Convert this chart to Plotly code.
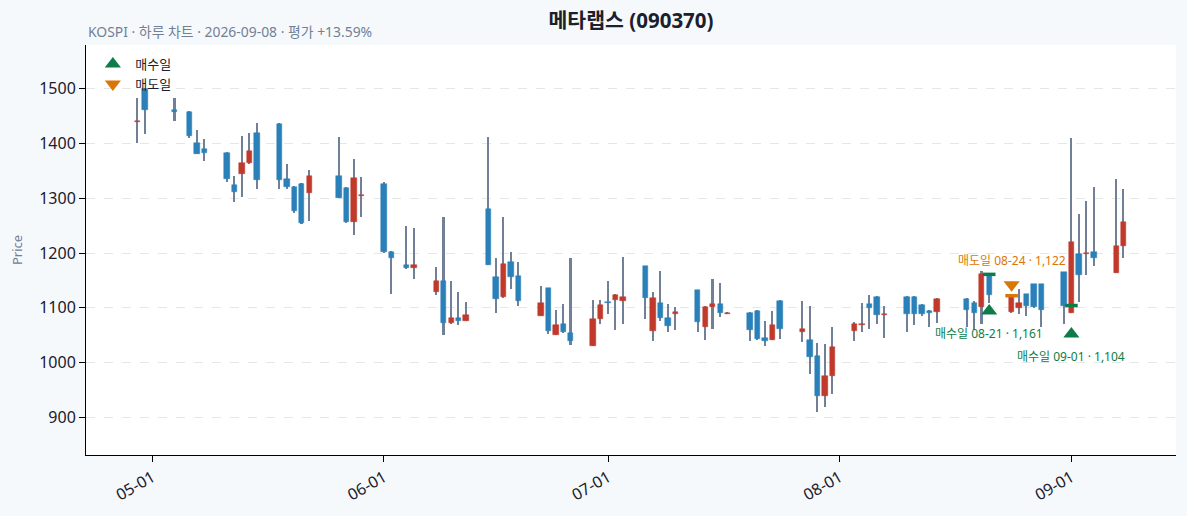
import plotly.graph_objects as go
import pandas as pd

# ---- data ----
dates = [
    "2026-04-29", "2026-04-30", "2026-05-04", "2026-05-06", "2026-05-07", "2026-05-08",
    "2026-05-11", "2026-05-12", "2026-05-13", "2026-05-14", "2026-05-15",
    "2026-05-18", "2026-05-19", "2026-05-20", "2026-05-21", "2026-05-22",
    "2026-05-26", "2026-05-27", "2026-05-28", "2026-05-29",
    "2026-06-01", "2026-06-02", "2026-06-04", "2026-06-05",
    "2026-06-08", "2026-06-09", "2026-06-10", "2026-06-11", "2026-06-12",
    "2026-06-15", "2026-06-16", "2026-06-17", "2026-06-18", "2026-06-19",
    "2026-06-22", "2026-06-23", "2026-06-24", "2026-06-25", "2026-06-26",
    "2026-06-29", "2026-06-30", "2026-07-01", "2026-07-02", "2026-07-03",
    "2026-07-06", "2026-07-07", "2026-07-08", "2026-07-09", "2026-07-10",
    "2026-07-13", "2026-07-14", "2026-07-15", "2026-07-16", "2026-07-17",
    "2026-07-20", "2026-07-21", "2026-07-22", "2026-07-23", "2026-07-24",
    "2026-07-27", "2026-07-28", "2026-07-29", "2026-07-30", "2026-07-31",
    "2026-08-03", "2026-08-04", "2026-08-05", "2026-08-06", "2026-08-07",
    "2026-08-10", "2026-08-11", "2026-08-12", "2026-08-13", "2026-08-14",
    "2026-08-18", "2026-08-19", "2026-08-20", "2026-08-21",
    "2026-08-24", "2026-08-25", "2026-08-26", "2026-08-27", "2026-08-28",
    "2026-08-31", "2026-09-01", "2026-09-02", "2026-09-03", "2026-09-04",
    "2026-09-07", "2026-09-08",
]
opens = [
    1440, 1500, 1462, 1457, 1401, 1390,
    1382, 1324, 1344, 1364, 1419,
    1435, 1335, 1321, 1326, 1309,
    1341, 1318, 1256, 1304,
    1326, 1202, 1179, 1173,
    1129, 1149, 1073, 1082, 1076,
    1281, 1156, 1119, 1183, 1158,
    1085, 1136, 1051, 1070, 1054,
    1030, 1080, 1110, 1115, 1113,
    1176, 1057, 1108, 1082, 1089,
    1132, 1065, 1101, 1107, 1089,
    1090, 1094, 1045, 1041, 1112,
    1056, 1041, 1012, 939, 976,
    1058, 1069, 1107, 1120, 1086,
    1120, 1120, 1105, 1094, 1093,
    1116, 1108, 1101, 1161,
    1092, 1100, 1125, 1143, 1143,
    1165, 1091, 1198, 1198, 1202,
    1163, 1212,
]
highs = [
    1484, 1502, 1483, 1460, 1424, 1408,
    1385, 1340, 1413, 1420, 1437,
    1437, 1362, 1322, 1327, 1351,
    1412, 1320, 1371, 1338,
    1330, 1203, 1250, 1246,
    1174, 1265, 1149, 1129, 1111,
    1412, 1191, 1265, 1201, 1183,
    1140, 1137, 1095, 1107, 1190,
    1114, 1115, 1148, 1126, 1192,
    1177, 1128, 1168, 1106, 1101,
    1133, 1103, 1152, 1145, 1091,
    1092, 1095, 1075, 1094, 1114,
    1112, 1103, 1035, 1033, 1064,
    1074, 1108, 1124, 1121, 1104,
    1121, 1121, 1107, 1095, 1117,
    1117, 1112, 1168, 1163,
    1126, 1135, 1126, 1144, 1144,
    1166, 1410, 1271, 1295, 1321,
    1335, 1317,
]
lows = [
    1401, 1417, 1441, 1411, 1380, 1368,
    1330, 1293, 1302, 1363, 1317,
    1317, 1317, 1273, 1253, 1259,
    1300, 1254, 1233, 1265,
    1200, 1126, 1170, 1152,
    1124, 1051, 1070, 1068, 1075,
    1179, 1090, 1117, 1135, 1103,
    1085, 1052, 1050, 1053, 1032,
    1030, 1071, 1088, 1060, 1071,
    1079, 1040, 1075, 1055, 1060,
    1055, 1042, 1062, 1083, 1089,
    1040, 1042, 1031, 1041, 1043,
    1038, 979, 910, 919, 943,
    1039, 1055, 1062, 1071, 1044,
    1056, 1068, 1085, 1065, 1073,
    1065, 1060, 1071, 1108,
    1091, 1089, 1085, 1099, 1065,
    1070, 1090, 1111, 1159, 1176,
    1163, 1190,
]
closes = [
    1441, 1461, 1457, 1413, 1381, 1382,
    1335, 1311, 1364, 1386, 1334,
    1334, 1320, 1276, 1255, 1341,
    1300, 1256, 1337, 1305,
    1201, 1190, 1173, 1179,
    1149, 1073, 1082, 1076, 1086,
    1179, 1116, 1180, 1157, 1113,
    1109, 1058, 1068, 1056, 1040,
    1080, 1105, 1109, 1123, 1119,
    1118, 1117, 1082, 1067, 1092,
    1074, 1101, 1107, 1090, 1090,
    1060, 1043, 1040, 1068, 1062,
    1061, 1010, 939, 976, 1028,
    1071, 1070, 1099, 1086, 1088,
    1088, 1089, 1088, 1090, 1116,
    1095, 1090, 1162, 1123,
    1123, 1108, 1103, 1102, 1095,
    1104, 1220, 1159, 1199, 1190,
    1213, 1257,
]

buy_dates = ["2026-08-21", "2026-09-01"]
buy_prices = [1161, 1104]
buy_marker_y = [1094, 1052]
sell_dates = ["2026-08-24"]
sell_prices = [1122]
sell_marker_y = [1142]

y_ticks = [900, 1000, 1100, 1200, 1300, 1400, 1500]

# ---- styles ----
FONT = "Noto Sans, Noto Sans CJK KR, sans-serif"
UP = "#c0392b"
DOWN = "#2a80b9"
WICK = "#718096"
BUY = "#0e7c48"
SELL = "#d97706"
DAY_MS = 86400000

df = pd.DataFrame({"date": pd.to_datetime(dates), "open": opens, "high": highs,
                   "low": lows, "close": closes})
df["up"] = df["close"] >= df["open"]
df["base"] = df[["open", "close"]].min(axis=1)
df["h"] = (df["close"] - df["open"]).abs().clip(lower=2)
colors = [UP if u else DOWN for u in df["up"]]

fig = go.Figure()

# wicks
fig.add_trace(go.Bar(
    x=df["date"], y=df["high"] - df["low"], base=df["low"],
    width=0.21 * DAY_MS, marker=dict(color=WICK, line=dict(width=0)),
    showlegend=False, hoverinfo="skip"))
# bodies
fig.add_trace(go.Bar(
    x=df["date"], y=df["h"], base=df["base"],
    width=0.72 * DAY_MS, marker=dict(color=colors, line=dict(color=colors, width=0.5)),
    showlegend=False, hoverinfo="skip"))

# trade price ticks on candles
fig.add_trace(go.Scatter(
    x=pd.to_datetime(buy_dates), y=buy_prices, mode="markers",
    marker=dict(symbol="line-ew", size=9, line=dict(color=BUY, width=3.5)),
    showlegend=False, hoverinfo="skip"))
fig.add_trace(go.Scatter(
    x=pd.to_datetime(sell_dates), y=sell_prices, mode="markers",
    marker=dict(symbol="line-ew", size=9, line=dict(color=SELL, width=3.5)),
    showlegend=False, hoverinfo="skip"))

# triangles
fig.add_trace(go.Scatter(
    x=pd.to_datetime(buy_dates), y=buy_marker_y, mode="markers", name="매수일",
    marker=dict(symbol="triangle-up", size=14, color=BUY)))
fig.add_trace(go.Scatter(
    x=pd.to_datetime(sell_dates), y=sell_marker_y, mode="markers", name="매도일",
    marker=dict(symbol="triangle-down", size=14, color=SELL)))

for d, p, my in zip(buy_dates, buy_prices, buy_marker_y):
    fig.add_annotation(x=d, y=my, text=f"매수일 {d[5:]} · {p:,}", showarrow=False,
                       yshift=-22, font=dict(family=FONT, size=12, color=BUY))
for d, p, my in zip(sell_dates, sell_prices, sell_marker_y):
    fig.add_annotation(x=d, y=my, text=f"매도일 {d[5:]} · {p:,}", showarrow=False,
                       yshift=24, font=dict(family=FONT, size=12, color=SELL))

fig.add_annotation(xref="paper", yref="paper", x=0, y=1.032, xanchor="left",
                   yanchor="middle", showarrow=False,
                   text="KOSPI · 하루 차트 · 2026-09-08 · 평가 +13.59%",
                   font=dict(family=FONT, size=13.9, color="#718096"))

fig.update_layout(
    width=1187, height=516,
    margin=dict(l=86, r=11, t=45, b=61),
    paper_bgcolor="#f6f9fc", plot_bgcolor="#ffffff",
    barmode="overlay", bargap=0,
    font=dict(family=FONT, size=13, color="#1a202c"),
    title=dict(text="<b>메타랩스 (090370)</b>", x=0.5, xref="paper", y=0.959,
               yref="container", xanchor="center", yanchor="middle",
               font=dict(family=FONT, size=20.5, color="#1a202c")),
    legend=dict(x=0.004, y=0.99, xanchor="left", yanchor="top",
                bgcolor="rgba(255,255,255,0)", font=dict(family=FONT, size=13),
                tracegroupgap=0, itemwidth=35),
    xaxis=dict(type="date", range=["2026-04-22 03:00", "2026-09-15"],
               tick0="2026-05-01", dtick="M1", tickformat="%m-%d", tickangle=-30,
               showgrid=False, showline=True, linecolor="#000", linewidth=1,
               ticks="outside", ticklen=6, tickcolor="#000",
               tickfont=dict(family=FONT, size=16, color="#1a202c")),
    yaxis=dict(range=[831, 1580], tickvals=y_ticks, showgrid=True,
               gridcolor="#e6e6e6", griddash="dash", gridwidth=1, zeroline=False,
               showline=True, linecolor="#000", linewidth=1,
               ticks="outside", ticklen=6, tickcolor="#000",
               tickfont=dict(family=FONT, size=16, color="#1a202c"),
               title=dict(text="Price", standoff=13,
                          font=dict(family=FONT, size=13, color="#718096"))),
)

fig.write_html("out.html", config={"displayModeBar": False},
               post_script="document.body.style.margin='0';")
